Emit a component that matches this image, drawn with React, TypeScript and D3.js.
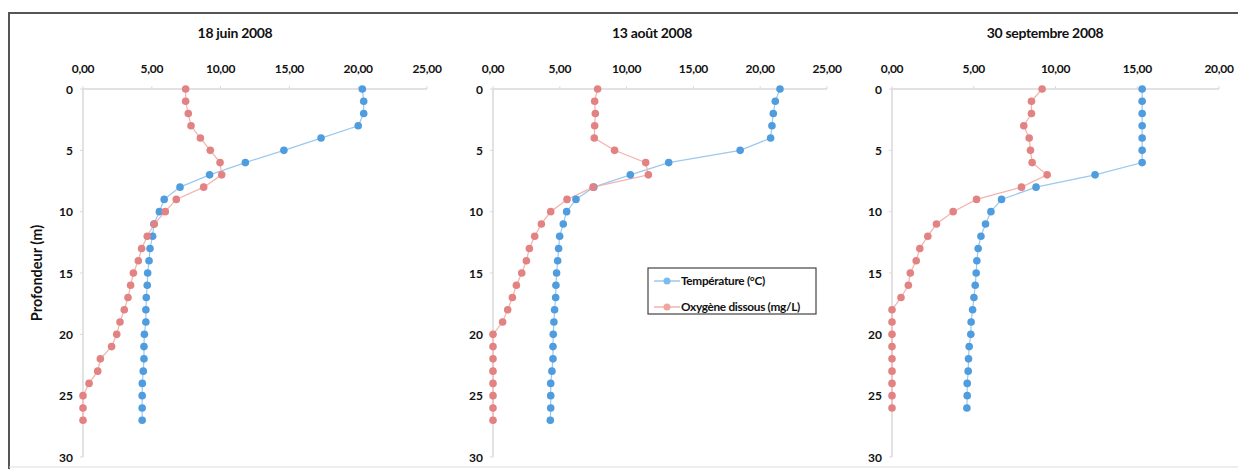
import React from 'react';
import * as d3 from 'd3';

// profondeur (m)
const depthsJuin = d3.range(0, 28);
const depthsAout = d3.range(0, 28);
const depthsSept = d3.range(0, 27);

const tempJuin = [20.3, 20.4, 20.4, 20.0, 17.3, 14.6, 11.8, 9.2, 7.05, 5.9, 5.55, 5.15, 5.06, 4.87, 4.8, 4.7, 4.67, 4.6, 4.57, 4.57, 4.46, 4.43, 4.43, 4.38, 4.31, 4.3, 4.3, 4.3];
const oxyJuin = [7.46, 7.46, 7.65, 7.85, 8.53, 9.25, 9.96, 10.08, 8.77, 6.78, 5.98, 5.18, 4.67, 4.26, 4.02, 3.66, 3.46, 3.27, 3.0, 2.69, 2.45, 2.08, 1.26, 1.07, 0.44, 0, 0, 0];

const tempAout = [21.48, 21.13, 20.98, 20.88, 20.78, 18.5, 13.15, 10.28, 7.54, 6.21, 5.51, 5.26, 4.99, 4.91, 4.84, 4.76, 4.71, 4.69, 4.61, 4.56, 4.51, 4.49, 4.49, 4.41, 4.32, 4.32, 4.32, 4.29];
const oxyAout = [7.83, 7.61, 7.66, 7.61, 7.58, 9.1, 11.43, 11.63, 7.49, 5.54, 4.32, 3.62, 3.12, 2.72, 2.5, 2.15, 1.75, 1.45, 1.1, 0.72, 0, 0, 0, 0, 0, 0, 0, 0];

const tempSept = [15.3, 15.3, 15.3, 15.3, 15.3, 15.3, 15.3, 12.42, 8.81, 6.7, 6.05, 5.72, 5.44, 5.27, 5.19, 5.15, 5.09, 5.01, 4.93, 4.84, 4.82, 4.72, 4.68, 4.66, 4.6, 4.6, 4.58];
const oxySept = [9.18, 8.53, 8.53, 8.06, 8.39, 8.47, 8.57, 9.49, 7.92, 5.17, 3.74, 2.72, 2.19, 1.7, 1.48, 1.12, 1.0, 0.55, 0, 0, 0, 0, 0, 0, 0, 0, 0];

const titles = ['18 juin 2008', '13 août 2008', '30 septembre 2008'];
const xTicksJuin = [0, 5, 10, 15, 20, 25];
const xTicksAout = [0, 5, 10, 15, 20, 25];
const xTicksSept = [0, 5, 10, 15, 20];
const yTicks = [0, 5, 10, 15, 20, 25, 30];
const seriesNames = ['Température (°C)', 'Oxygène dissous (mg/L)'];

const TEMP_DOT = '#4f9ddf';
const TEMP_LINE = '#9cc8ee';
const OXY_DOT = '#e38282';
const OXY_LINE = '#f3b3ad';
const FONT = 'Lato, "DejaVu Sans", sans-serif';
const INK = '#111';

const panels = [
  { title: titles[0], depths: depthsJuin, temp: tempJuin, oxy: oxyJuin, ticks: xTicksJuin, x0: 83, x1: 427, tx: 235 },
  { title: titles[1], depths: depthsAout, temp: tempAout, oxy: oxyAout, ticks: xTicksAout, x0: 493, x1: 827, tx: 652 },
  { title: titles[2], depths: depthsSept, temp: tempSept, oxy: oxySept, ticks: xTicksSept, x0: 892, x1: 1219, tx: 1045 },
];

const y = d3.scaleLinear().domain([0, 30]).range([89, 457]);

const Panel = ({ p }) => {
  const max = p.ticks[p.ticks.length - 1];
  const x = d3.scaleLinear().domain([0, max]).range([p.x0, p.x1]);
  const fmt = (v: number) => v.toFixed(2).replace('.', ',');
  const line = d3.line<[number, number]>().x(d => x(d[0])).y(d => y(d[1]));
  const tPts = p.temp.map((v, i) => [v, p.depths[i]] as [number, number]);
  const oPts = p.oxy.map((v, i) => [v, p.depths[i]] as [number, number]);
  return (
    <g>
      <text x={p.tx} y={38} textAnchor="middle" fontFamily={FONT} fontWeight="bold" fontSize={14} letterSpacing={-0.3} fill={INK}>{p.title}</text>
      {/* axes */}
      <line x1={p.x0} x2={p.x1} y1={y(0)} y2={y(0)} stroke="#d9d9d9" strokeWidth={1.5} />
      <line x1={p.x0} x2={p.x0} y1={y(0)} y2={y(30)} stroke="#d9d9d9" strokeWidth={1.5} />
      {p.ticks.map(t => (
        <g key={t}>
          <line x1={x(t)} x2={x(t)} y1={y(0) - 3} y2={y(0)} stroke="#d9d9d9" />
          <text x={x(t)} y={73} textAnchor="middle" fontFamily={FONT} fontWeight="bold" fontSize={12} letterSpacing={-0.3} fill={INK}>{fmt(t)}</text>
        </g>
      ))}
      {yTicks.map(t => (
        <g key={t}>
          <line x1={p.x0 - 3} x2={p.x0} y1={y(t)} y2={y(t)} stroke="#d9d9d9" />
          <text x={p.x0 - 10} y={y(t) + 4.5} textAnchor="end" fontFamily={FONT} fontWeight="bold" fontSize={12} fill={INK}>{t}</text>
        </g>
      ))}
      <path d={line(tPts) || ''} fill="none" stroke={TEMP_LINE} strokeWidth={1.2} />
      <path d={line(oPts) || ''} fill="none" stroke={OXY_LINE} strokeWidth={1.2} />
      {tPts.map((d, i) => <circle key={'t' + i} cx={x(d[0])} cy={y(d[1])} r={3.8} fill={TEMP_DOT} />)}
      {oPts.map((d, i) => <circle key={'o' + i} cx={x(d[0])} cy={y(d[1])} r={3.8} fill={OXY_DOT} />)}
    </g>
  );
};

export default function App() {
  return (
    <svg width={1238} height={469} style={{ position: 'absolute', left: 0, top: 0, background: '#fff' }}>
      <rect x={0} y={0} width={1238} height={469} fill="#fff" />
      {/* cadre */}
      <line x1={9} x2={1238} y1={13} y2={13} stroke="#555" strokeWidth={2} />
      <line x1={9} x2={9} y1={12} y2={469} stroke="#555" strokeWidth={2} />
      <line x1={9} x2={1238} y1={467} y2={467} stroke="#ddd" strokeWidth={1} />
      <text transform="translate(42,273) rotate(-90)" textAnchor="middle" fontFamily={FONT} fontWeight="bold" fontSize={14.5} fill={INK}>Profondeur (m)</text>
      {panels.map(p => <Panel key={p.title} p={p} />)}
      {/* légende */}
      <g>
        <rect x={648} y={268} width={168} height={46} fill="#fff" stroke="#444" strokeWidth={1.2} />
        {seriesNames.map((n, i) => (
          <g key={n}>
            <line x1={654} x2={680} y1={281 + i * 26} y2={281 + i * 26} stroke={i === 0 ? TEMP_LINE : OXY_LINE} strokeWidth={1.5} />
            <circle cx={667} cy={281 + i * 26} r={3.5} fill={i === 0 ? '#7bbbee' : '#f1a59f'} />
            <text x={681} y={285 + i * 26} fontFamily={FONT} fontWeight="bold" fontSize={11.8} letterSpacing={-0.3} fill={INK}>{n}</text>
          </g>
        ))}
      </g>
    </svg>
  );
}
